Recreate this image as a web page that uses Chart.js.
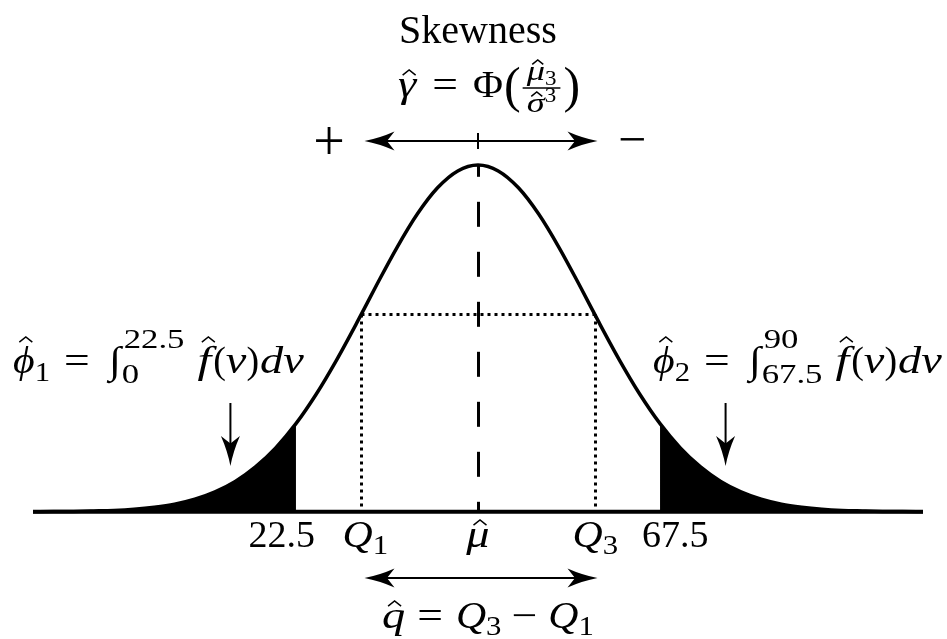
<!DOCTYPE html>
<html>
<head>
<meta charset="utf-8">
<script src="https://cdn.jsdelivr.net/npm/chart.js"></script>
<style>
  html, body { margin: 0; padding: 0; background: #fff; }
</style>
</head>
<body>
<canvas id="chart" width="947" height="639"></canvas>
<script>
// curve: v positions and density heights
const vValues = [-10, -7.5, -5, -2.5, 0, 2.5, 5, 7.5, 10, 12.5, 15, 17.5, 20, 22.5, 25, 27.5, 30, 32.5, 35, 37.5, 40, 42.5,
  45, 47.5, 50, 52.5, 55, 57.5, 60, 62.5, 65, 67.5, 70, 72.5, 75, 77.5, 80, 82.5, 85, 87.5, 90, 92.5, 95, 97.5, 100];
const density = [0.00000, 0.00002, 0.00003, 0.00007, 0.00012, 0.00022, 0.00039, 0.00065, 0.00107, 0.00169, 0.00257,
  0.00380, 0.00541, 0.00746, 0.00995, 0.01282, 0.01596, 0.01923, 0.02238, 0.02519, 0.02741, 0.02884,
  0.02933, 0.02884, 0.02741, 0.02519, 0.02238, 0.01923, 0.01596, 0.01282, 0.00995, 0.00746, 0.00541,
  0.00380, 0.00257, 0.00169, 0.00107, 0.00065, 0.00039, 0.00022, 0.00012, 0.00007, 0.00003, 0.00002, 0.00000];

const leftCut = 22.5;
const rightCut = 67.5;
const meanV = 45;
const peakDensity = 0.02933;
const q1 = 30.6;
const q3 = 59.4;
const qLevel = 0.0167;
const tailArrows = [14.4, 75.6];
const bottomLabels = ['22.5', 'Q', '\u03bc', 'Q', '67.5'];

const curvePts = vValues.map((v, i) => ({ x: v, y: density[i] }));
const leftTail = curvePts.filter(p => p.x <= leftCut);
const rightTail = curvePts.filter(p => p.x >= rightCut);

const SERIF = '"Liberation Serif", "DejaVu Serif", serif';
const M = 38, S = 28, SS = 20;
const IT = 1.22;   // widen italics to look like the TeX math font

function font(size, it) {
  return (it ? 'italic ' : '') + size + 'px ' + SERIF;
}

function hat(ctx, cx, tipY, w) {
  ctx.save();
  ctx.lineWidth = 1.5;
  ctx.beginPath();
  ctx.moveTo(cx - w / 2, tipY + w * 0.4);
  ctx.lineTo(cx, tipY);
  ctx.lineTo(cx + w / 2, tipY + w * 0.4);
  ctx.stroke();
  ctx.restore();
}

function piece(ctx, t, size, it, sx, x, y) {
  ctx.font = font(size, it);
  const w = ctx.measureText(t).width * sx;
  ctx.save();
  ctx.translate(x, y);
  ctx.scale(sx, 1);
  ctx.fillText(t, 0, 0);
  ctx.restore();
  return w;
}

// draws a run of math pieces starting at x, baseline y; returns end x
function drawRun(ctx, x, y, items) {
  let cx = x;
  items.forEach(p => {
    cx += p.pre || 0;
    if (p.num) {
      const wn = drawRun(ctx, -9999, 0, p.num) + 9999;
      const wd = drawRun(ctx, -9999, 0, p.den) + 9999;
      const w = Math.max(wn, wd) + 8;
      const barY = y - 9;
      ctx.save();
      ctx.lineWidth = 1.6;
      ctx.beginPath();
      ctx.moveTo(cx, barY);
      ctx.lineTo(cx + w, barY);
      ctx.stroke();
      ctx.restore();
      drawRun(ctx, cx + (w - wn) / 2, barY - 8, p.num);
      drawRun(ctx, cx + (w - wd) / 2, barY + 24, p.den);
      cx += w + (p.gap || 0);
      return;
    }
    const sx = p.sx || (p.it ? IT : 1);
    const w = piece(ctx, p.t, p.s, p.it, sx, cx, y + (p.dy || 0));
    if (p.lim) {
      const wa = piece(ctx, p.lim[0], S, false, 1.24, cx + w + p.lx[0], y - 25);
      const wb = piece(ctx, p.lim[1], S, false, 1.24, cx + w + p.lx[1], y + 10);
      cx += w + Math.max(wa + p.lx[0], wb + p.lx[1]) + (p.gap || 0);
      return;
    }
    if (p.hat) hat(ctx, cx + w / 2 + (p.hx || 0), y + (p.dy || 0) - p.hat, p.hw || 13);
    cx += w + (p.gap || 0);
  });
  return cx;
}

function arrowHead(ctx, x, y, ang, L, W) {
  ctx.save();
  ctx.translate(x, y);
  ctx.rotate(ang);
  ctx.beginPath();
  ctx.moveTo(0, 0);
  ctx.quadraticCurveTo(-L * 0.5, -W * 0.15, -L, -W / 2);
  ctx.lineTo(-L * 0.75, 0);
  ctx.lineTo(-L, W / 2);
  ctx.quadraticCurveTo(-L * 0.5, W * 0.15, 0, 0);
  ctx.fill();
  ctx.restore();
}

function doubleArrow(ctx, x1, x2, y) {
  ctx.save();
  ctx.lineWidth = 2;
  ctx.beginPath();
  ctx.moveTo(x1 + 15, y);
  ctx.lineTo(x2 - 15, y);
  ctx.stroke();
  arrowHead(ctx, x1, y, Math.PI, 30, 19);
  arrowHead(ctx, x2, y, 0, 30, 19);
  ctx.restore();
}

const annotations = {
  id: 'annotations',
  afterDraw(chart) {
    const ctx = chart.ctx;
    const xs = chart.scales.x, ys = chart.scales.y;
    const px = v => xs.getPixelForValue(v);
    const py = d => ys.getPixelForValue(d);
    const base = py(0);
    ctx.save();
    ctx.fillStyle = '#000';
    ctx.strokeStyle = '#000';

    // dashed mean line
    ctx.save();
    ctx.lineWidth = 3;
    ctx.setLineDash([25, 25]);
    ctx.lineDashOffset = 15;
    ctx.beginPath();
    ctx.moveTo(Math.round(px(meanV)) + 0.5, base);
    ctx.lineTo(Math.round(px(meanV)) + 0.5, py(peakDensity));
    ctx.stroke();
    ctx.restore();

    // dotted quartile box
    ctx.save();
    ctx.lineWidth = 3;
    ctx.setLineDash([3, 4]);
    const xq1 = Math.round(px(q1)) + 0.5, xq3 = Math.round(px(q3)) + 0.5, yq = Math.round(py(qLevel)) + 0.5;
    ctx.beginPath();
    ctx.moveTo(xq1, yq);
    ctx.lineTo(xq3, yq);
    ctx.moveTo(xq1, yq);
    ctx.lineTo(xq1, base - 2);
    ctx.moveTo(xq3, yq);
    ctx.lineTo(xq3, base - 2);
    ctx.stroke();
    ctx.restore();

    // title
    ctx.font = font(40, false);
    ctx.textAlign = 'center';
    ctx.fillText('Skewness', px(meanV), 43);
    ctx.textAlign = 'left';

    // gamma formula
    const gamma = [
      { t: '\u03b3', it: true, s: M, hat: 27, hx: 2 },
      { t: '=', s: M, sx: 1.2, pre: 16, gap: 15 },
      { t: '\u03a6', s: M, sx: 1.08, gap: 1 },
      { t: '(', s: 50, dy: 5, gap: 2 },
      { num: [{ t: '\u03bc', it: true, s: S, sx: 1.3, hat: 20, hx: 2, hw: 11 }, { t: '3', s: SS, sx: 1.15, dy: 5 }],
        den: [{ t: '\u03c3', it: true, s: S, sx: 1.3, hat: 20, hx: 1, hw: 11 }, { t: '3', s: SS, sx: 1.15, dy: -10 }], gap: 3 },
      { t: ')', s: 50, dy: 5 }
    ];
    drawRun(ctx, 398, 97, gamma);

    // skewness arrow with + and -
    const ya = 141;
    doubleArrow(ctx, px(q1) + 3, px(q3) + 3, ya);
    ctx.save();
    ctx.lineWidth = 2;
    ctx.beginPath();
    ctx.moveTo(px(meanV), ya - 8);
    ctx.lineTo(px(meanV), ya + 8);
    ctx.stroke();
    ctx.restore();
    ctx.textAlign = 'center';
    ctx.font = font(56, false);
    ctx.fillText('+', 329, ya + 19);
    ctx.font = font(50, false);
    ctx.fillText('\u2212', 632, ya + 15);
    ctx.textAlign = 'left';

    // tail formulas
    const tailRun = (sub, lims) => [
      { t: '\u03d5', it: true, s: M, sx: 1.1, hat: 36, hx: 2 },
      { t: sub, s: S, sx: 1.1, dy: 8 },
      { t: '=', s: M, sx: 1.2, pre: 14, gap: 19 },
      { t: '\u222b', s: M, sx: 1.15, lim: lims, lx: [3, 1], gap: 13 },
      { t: 'f', it: true, s: M, sx: 1.3, hat: 36, hx: 4, gap: 2 },
      { t: '(', s: M },
      { t: 'v', it: true, s: M },
      { t: ')', s: M, gap: 1 },
      { t: 'd', it: true, s: M },
      { t: 'v', it: true, s: M }
    ];
    drawRun(ctx, 13, 373, tailRun('1', ['22.5', '0']));
    drawRun(ctx, 653, 373, tailRun('2', ['90', '67.5']));

    // arrows pointing into the tails
    tailArrows.forEach(v => {
      const x = px(v);
      ctx.save();
      ctx.lineWidth = 2;
      ctx.beginPath();
      ctx.moveTo(x, 403);
      ctx.lineTo(x, 450);
      ctx.stroke();
      arrowHead(ctx, x, 466, Math.PI / 2, 30, 19);
      ctx.restore();
    });

    // labels under the axis
    const yl = 547;
    ctx.font = font(M, false);
    ctx.textAlign = 'right';
    ctx.fillText(bottomLabels[0], px(leftCut) + 19, yl);
    ctx.textAlign = 'left';
    ctx.fillText(bottomLabels[4], px(rightCut) - 18, yl);
    drawRun(ctx, px(q1) - 19, yl, [{ t: bottomLabels[1], it: true, s: M, sx: 1.1 }, { t: '1', s: S, sx: 1.1, dy: 7 }]);
    drawRun(ctx, px(q3) - 22, yl, [{ t: bottomLabels[3], it: true, s: M, sx: 1.1 }, { t: '3', s: S, sx: 1.1, dy: 7 }]);
    ctx.font = font(M, true);
    const wm = ctx.measureText(bottomLabels[2]).width * IT;
    drawRun(ctx, px(meanV) - wm / 2, yl, [{ t: bottomLabels[2], it: true, s: M, hat: 27, hx: 2 }]);

    // interquartile arrow and formula
    doubleArrow(ctx, px(q1) + 3, px(q3) + 3, 578);
    const qf = [
      { t: 'q', it: true, s: M, hat: 27, hx: 1 },
      { t: '=', s: M, sx: 1.2, pre: 12, gap: 13 },
      { t: 'Q', it: true, s: M, sx: 1.1 },
      { t: '3', s: S, sx: 1.1, dy: 7 },
      { t: '\u2212', s: M, sx: 1.2, pre: 10, gap: 11 },
      { t: 'Q', it: true, s: M, sx: 1.1 },
      { t: '1', s: S, sx: 1.1, dy: 7 }
    ];
    drawRun(ctx, 382, 628, qf);

    ctx.restore();
  }
};

new Chart(document.getElementById('chart'), {
  type: 'line',
  data: {
    datasets: [
      { data: leftTail, fill: 'origin', backgroundColor: '#000', borderWidth: 0, pointRadius: 0, cubicInterpolationMode: 'monotone' },
      { data: rightTail, fill: 'origin', backgroundColor: '#000', borderWidth: 0, pointRadius: 0, cubicInterpolationMode: 'monotone' },
      { data: [{ x: -10, y: 0 }, { x: 100, y: 0 }], borderColor: '#000', borderWidth: 4, pointRadius: 0, borderCapStyle: 'round', fill: false },
      { data: curvePts, borderColor: '#000', borderWidth: 3.5, pointRadius: 0, fill: false, cubicInterpolationMode: 'monotone' }
    ]
  },
  options: {
    responsive: false,
    animation: false,
    devicePixelRatio: 1,
    layout: { padding: { left: 33, right: 24, top: 39, bottom: 9 } },
    scales: {
      x: { type: 'linear', min: -10, max: 100, display: false },
      y: { min: -0.01, max: 0.04, display: false }
    },
    plugins: { legend: { display: false }, tooltip: { enabled: false } }
  },
  plugins: [annotations]
});
</script>
</body>
</html>
